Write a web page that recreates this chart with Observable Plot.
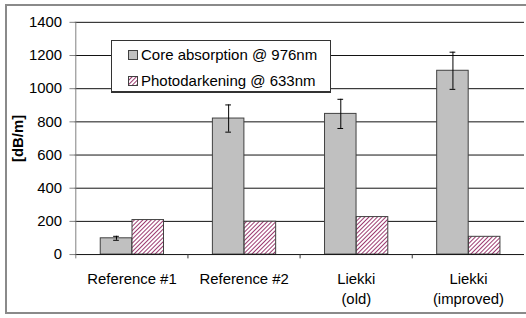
<!DOCTYPE html>
<html>
<head>
<meta charset="utf-8">
<script src="https://cdn.jsdelivr.net/npm/d3@7"></script>
<script src="https://cdn.jsdelivr.net/npm/@observablehq/plot@0.6"></script>
<style>
  html, body { margin: 0; padding: 0; background: #fff; overflow: hidden; }
  #wrap { position: relative; width: 526px; height: 318px; overflow: hidden; font-family: "Liberation Sans", Arial, sans-serif; }
  #border { position: absolute; left: 5px; top: 4px; width: 560px; height: 310px; border: 2px solid #8a8a8a; box-sizing: border-box; pointer-events: none; }
  #chart { position: absolute; left: 0; top: 0; }
  #legend { position: absolute; left: 111px; top: 40px; width: 220px; height: 53px; box-sizing: border-box; background: #fff; border: 1px solid #333; border-bottom-width: 2px; font-size: 15px; color: #000; }
  .item { position: absolute; left: 16px; height: 18px; line-height: 18px; white-space: nowrap; }
  .item svg { position: absolute; left: 0; top: 4px; }
  .item span { position: absolute; left: 13px; top: 0; }
</style>
</head>
<body>
<div id="wrap">
  <div id="chart"></div>
  <div id="border"></div>
  <div id="legend">
    <div class="item" style="top:5px"><svg width="10" height="10"><rect x="0.5" y="0.5" width="9" height="9" fill="#c0c0c0" stroke="#404040"/></svg><span id="l1"></span></div>
    <div class="item" style="top:31px"><svg width="10" height="10"><rect x="0.5" y="0.5" width="9" height="9" fill="url(#hatch)" stroke="#404040"/></svg><span id="l2"></span></div>
  </div>
</div>
<script>
const categories = ["Reference #1", "Reference #2", "Liekki (old)", "Liekki (improved)"];
const tickLabels = ["Reference #1", "Reference #2", "Liekki\n(old)", "Liekki\n(improved)"];
const seriesNames = ["Core absorption @ 976nm", "Photodarkening @ 633nm"];
const coreAbsorption = [98, 820, 848, 1108];
const coreError = [12, 82, 88, 112];
const photodarkening = [208, 198, 226, 107];
const yTicks = [0, 200, 400, 600, 800, 1000, 1200, 1400];

const rows = categories.map((c, i) => ({
  category: c,
  core: coreAbsorption[i],
  err: coreError[i],
  photo: photodarkening[i]
}));
const labelOf = new Map(categories.map((c, i) => [c, tickLabels[i]]));

const step = (528 - 75) / categories.length;
const half = step / 2;

document.getElementById("l1").textContent = seriesNames[0];
document.getElementById("l2").textContent = seriesNames[1];

const chart = Plot.plot({
  width: 530,
  height: 318,
  marginLeft: 75,
  marginRight: 2,
  marginTop: 22,
  marginBottom: 62,
  style: { fontFamily: "Liberation Sans, Arial, sans-serif", fontSize: "15px", background: "transparent", overflow: "visible" },
  x: { domain: categories, padding: 0 },
  y: { domain: [0, 1400] },
  marks: [
    Plot.ruleY(yTicks.slice(1), { stroke: "#111", strokeWidth: 1 }),
    Plot.barY(rows, { x: "category", y: "core", fill: "#c0c0c0", stroke: "#404040", strokeWidth: 1, insetLeft: 25, insetRight: step - 57 }),
    Plot.barY(rows, { x: "category", y: "photo", fill: "url(#hatch)", stroke: "#404040", strokeWidth: 1, insetLeft: 57, insetRight: step - 89 }),
    Plot.ruleX(rows, { x: "category", y1: d => d.core - d.err, y2: d => d.core + d.err, dx: 41 - half, stroke: "#000", strokeWidth: 1 }),
    Plot.tickY(rows, { x: "category", y: d => d.core + d.err, insetLeft: 38, insetRight: step - 44, stroke: "#000" }),
    Plot.tickY(rows, { x: "category", y: d => d.core - d.err, insetLeft: 38, insetRight: step - 44, stroke: "#000" }),
    Plot.ruleY([0], { stroke: "#111", strokeWidth: 1 }),
    Plot.ruleX(categories.slice(1), { x: d => d, y1: -26, y2: 0, dx: -half, stroke: "#333" }),
    Plot.ruleX([categories[0]], { x: d => d, y1: -26, y2: 1400, dx: -half, stroke: "#808080" }),
    Plot.axisY({ ticks: yTicks, tickSize: 5, tickPadding: 8, tickFormat: d => String(d), stroke: "#808080", fill: "#000", fontSize: 15, label: null }),
    Plot.axisX({ tickSize: 0, tickPadding: 16, tickFormat: d => labelOf.get(d), fontSize: 15, fill: "#000", lineHeight: 1.3, label: null }),
    Plot.text(["[dB/m]"], { frameAnchor: "left", textAnchor: "middle", rotate: -90, dx: -57, fontWeight: "bold", fontSize: 15, fill: "#000" })
  ]
});

const ns = "http://www.w3.org/2000/svg";
const defs = document.createElementNS(ns, "defs");
defs.innerHTML = '<pattern id="hatch" patternUnits="userSpaceOnUse" width="3" height="3" patternTransform="rotate(45)">' +
  '<rect width="3" height="3" fill="#ffffff"/><line x1="0.5" y1="0" x2="0.5" y2="3" stroke="#9c3a70" stroke-width="1"/></pattern>';
chart.insertBefore(defs, chart.firstChild);
document.getElementById("chart").appendChild(chart);
</script>
</body>
</html>
